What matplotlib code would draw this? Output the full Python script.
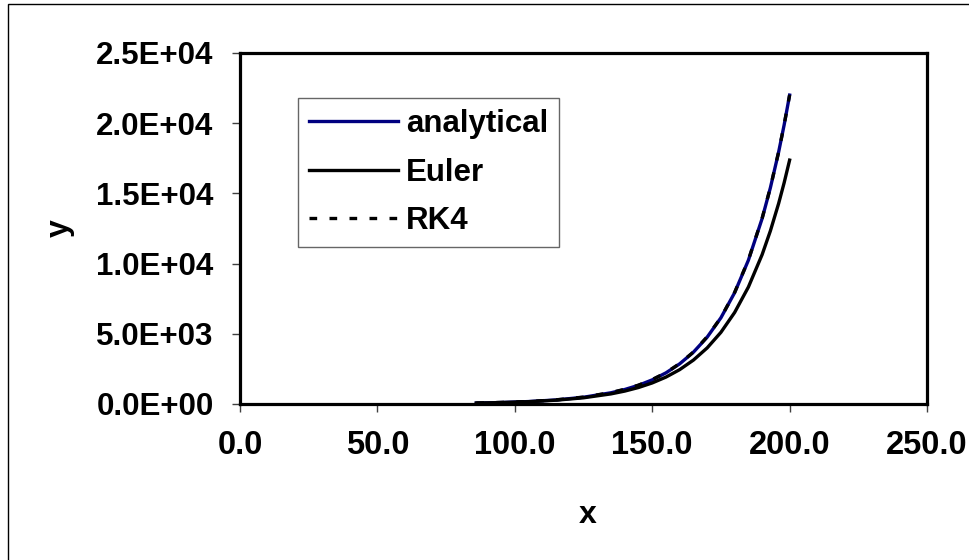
import matplotlib.pyplot as plt
from matplotlib.patches import Rectangle
from matplotlib.ticker import FuncFormatter, MultipleLocator

plt.rcParams['font.family'] = ['Liberation Sans', 'DejaVu Sans']
plt.rcParams['font.weight'] = 'bold'

# valores
x = [86, 95, 105, 115, 125, 135, 140, 145, 150, 155, 160, 165, 170,
     175, 180, 185, 190, 193, 196, 198, 200]
y_analytical = [66, 104, 173, 288, 480, 799, 1032, 1330, 1717, 2217, 2860,
                3690, 4760, 6140, 7930, 10240, 13210, 15400, 17940, 19870, 22000]
y_euler = [65, 101, 165, 270, 440, 719, 918, 1173, 1499, 1915, 2447,
           3127, 3995, 5104, 6520, 8330, 10640, 12330, 14280, 15750, 17370]
y_rk4 = [66, 110, 170, 295, 490, 810, 1050, 1340, 1740, 2230, 2880,
         3700, 4790, 6150, 7950, 10260, 13230, 15420, 17950, 19880, 22010]

fig = plt.figure(figsize=(9.7, 5.6), dpi=100)
fig.patches.append(Rectangle((0.0082, -0.05), 1.1, 1.043, transform=fig.transFigure,
                             fill=False, edgecolor='black', linewidth=1))

ax = fig.add_axes([0.2474, 0.2786, 0.7083, 0.6268])
ax.plot(x, y_analytical, color='#000080', lw=2.4, label='analytical')
ax.plot(x, y_euler, color='black', lw=2.4, label='Euler')
ax.plot(x, y_rk4, color='black', lw=2.4, linestyle=(0, (2.3, 3.7)), label='RK4')

ax.set_xlim(0, 250)
ax.set_ylim(0, 25000)
ax.xaxis.set_major_locator(MultipleLocator(50))
ax.yaxis.set_major_locator(MultipleLocator(5000))
ax.xaxis.set_major_formatter(FuncFormatter(lambda v, p: f'{v:.1f}'))
ax.yaxis.set_major_formatter(FuncFormatter(lambda v, p: f'{v:.1E}'))

for s in ax.spines.values():
    s.set_linewidth(2.3)
ax.tick_params(axis='both', direction='out', length=6, width=1, color='#404040')
ax.tick_params(axis='x', pad=13, labelsize=23.5)
ax.tick_params(axis='y', pad=13, labelsize=22.5)

ax.set_xlabel('x', fontsize=23, fontweight='bold', va='center')
ax.set_ylabel('y', fontsize=23, fontweight='bold', va='center')
ax.xaxis.set_label_coords(0.5066, -0.316)
ax.yaxis.set_label_coords(-0.262, 0.501)

leg = ax.legend(loc='upper left', bbox_to_anchor=(0.0844, 0.872), fontsize=22.5,
                frameon=True, fancybox=False, handlelength=2.85, handletextpad=0.25,
                borderpad=0.35, labelspacing=0.6, borderaxespad=0)
leg.get_frame().set_edgecolor('#404040')
leg.get_frame().set_linewidth(1)
for t in leg.get_texts():
    t.set_fontweight('bold')

fig.savefig('out.png', dpi=100)
